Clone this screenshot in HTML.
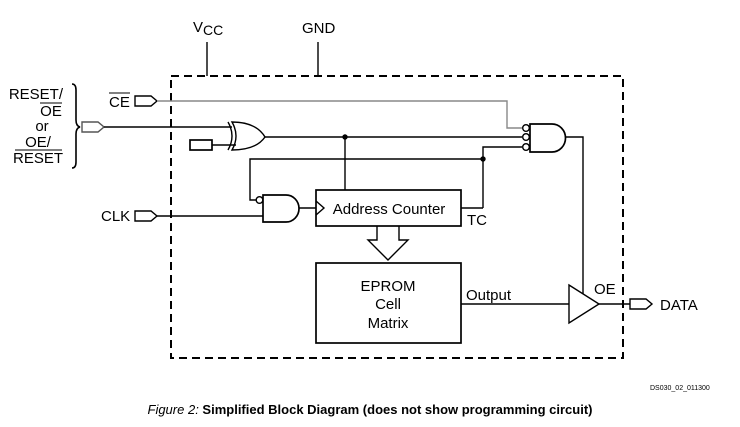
<!DOCTYPE html>
<html><head><style>body{margin:0;background:#fff}svg{display:block}text{font-family:"Liberation Sans",sans-serif;fill:#000}</style></head>
<body>
<svg width="740" height="427" viewBox="0 0 740 427" xmlns="http://www.w3.org/2000/svg">
<g fill="none" stroke="#000" stroke-width="1.4">
<rect x="171" y="76" width="452" height="282" stroke-width="2" stroke-dasharray="8,5"/>
<line x1="207" y1="42" x2="207" y2="76"/><line x1="318" y1="42" x2="318" y2="76"/>
<path d="M135 96 H151 L157 101 L151 106 H135 Z"/>
<path d="M82 122 H98 L104 127 L98 132 H82 Z" stroke="#555"/>
<path d="M135 211 H151 L157 216 L151 221 H135 Z"/>
<path d="M630 299 H646 L652 304 L646 309 H630 Z"/>
<path d="M157 101 H507 V128 H522" stroke="#888"/>
<line x1="104" y1="127" x2="232" y2="127"/>
<path d="M228 122 Q236 136 228 150"/>
<path d="M232 122 Q240 136 232 150 Q256 150 265 137 Q256 122 232 122 Z"/>
<rect x="190" y="140" width="22" height="10" stroke-width="1.7"/>
<line x1="212" y1="145" x2="236" y2="145"/>
<path d="M265 137 H522"/>
<line x1="345" y1="137" x2="345" y2="190"/>
<path d="M483 208 H461 M483 208 V147 H522"/>
<path d="M483 159 H250 V200 H256"/>
<circle cx="526" cy="128" r="3.3"/><circle cx="526" cy="137" r="3.3"/><circle cx="526" cy="147" r="3.3"/>
<path d="M530 124 H552 A13.5 14 0 0 1 552 152 H530 Z" stroke-width="1.7"/>
<path d="M565 137 H583 V294"/>
<circle cx="259.5" cy="200" r="3.3"/>
<path d="M263 195 H286 A13 13.5 0 0 1 286 222 H263 Z" stroke-width="1.7"/>
<line x1="157" y1="216" x2="263" y2="216"/>
<line x1="299" y1="208" x2="316" y2="208"/>
<rect x="316" y="190" width="145" height="36" stroke-width="1.7"/>
<path d="M316 201 L324 208 L316 215"/>
<path d="M377 226 V240 H368 L388 260 L408 240 H399 V226"/>
<rect x="316" y="263" width="145" height="80" stroke-width="1.7"/>
<line x1="461" y1="304" x2="569" y2="304"/>
<path d="M569 285 L599 304 L569 323 Z"/>
<line x1="599" y1="304" x2="630" y2="304"/>
<path d="M72 84 Q76 84 76 90 V120 Q76 126 80 127 Q76 128 76 134 V162 Q76 168 72 168" stroke-width="1.6"/>
</g>
<circle cx="345" cy="137" r="2.7"/><circle cx="483" cy="159" r="2.7"/>
<g font-size="15">
<text x="193" y="32">V<tspan font-size="14" dy="3">CC</tspan></text>
<text x="302" y="33">GND</text>
<text x="109" y="107">CE</text><line x1="109" y1="93" x2="130" y2="93" stroke="#000"/>
<text x="63" y="99" text-anchor="end">RESET/</text>
<text x="51" y="116" text-anchor="middle">OE</text><line x1="40" y1="103" x2="62" y2="103" stroke="#000"/>
<text x="42" y="131" text-anchor="middle">or</text>
<text x="38" y="147" text-anchor="middle">OE/</text><line x1="15" y1="150" x2="62" y2="150" stroke="#000"/>
<text x="63" y="163" text-anchor="end">RESET</text>
<text x="101" y="221">CLK</text>
<text x="389" y="214" text-anchor="middle">Address Counter</text>
<text x="467" y="225">TC</text>
<text x="388" y="291" text-anchor="middle">EPROM</text>
<text x="388" y="309" text-anchor="middle">Cell</text>
<text x="388" y="328" text-anchor="middle">Matrix</text>
<text x="466" y="300">Output</text>
<text x="594" y="294">OE</text>
<text x="660" y="310">DATA</text>
</g>
<text x="650" y="390" font-size="7">DS030_02_011300</text>
<text x="370" y="414" font-size="13" text-anchor="middle"><tspan font-style="italic">Figure 2:</tspan><tspan font-weight="bold">  Simplified Block Diagram (does not show programming circuit)</tspan></text>
</svg>
</body></html>
